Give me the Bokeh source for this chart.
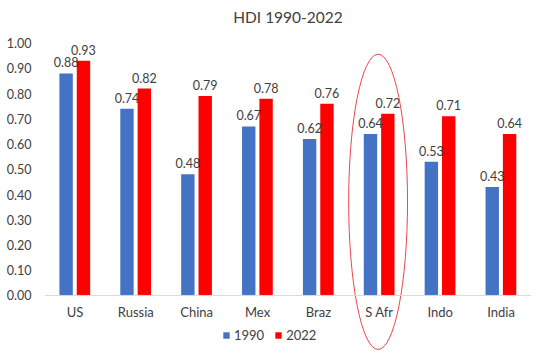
import numpy as np
from bokeh.plotting import figure
from bokeh.models import (ColumnDataSource, FactorRange, Range1d, FixedTicker,
                          NumeralTickFormatter, Legend, LegendItem, Span)
from bokeh.transform import dodge
from bokeh.core.properties import value
from bokeh.embed import file_html
from bokeh.resources import INLINE

countries = ["US", "Russia", "China", "Mex", "Braz", "S Afr", "Indo", "India"]
hdi_1990 = [0.88, 0.74, 0.48, 0.67, 0.62, 0.64, 0.53, 0.43]
hdi_2022 = [0.93, 0.82, 0.79, 0.78, 0.76, 0.72, 0.71, 0.64]
y_ticks = [0.0, 0.1, 0.2, 0.3, 0.4, 0.5, 0.6, 0.7, 0.8, 0.9, 1.0]
highlight = "S Afr"

FONT = "Lato"
TXT = "#404040"
BLUE = "#4472C4"
RED = "#FF0000"

src = ColumnDataSource(dict(
    c=countries, a=hdi_1990, b=hdi_2022, zero=[0.0] * len(countries),
    la=["%.2f" % v for v in hdi_1990], lb=["%.2f" % v for v in hdi_2022],
))

p = figure(frame_width=487, frame_height=325, x_range=FactorRange(*countries),
           y_range=Range1d(-0.238, 1.05), output_backend="svg",
           toolbar_location=None, x_axis_location=None,
           min_border_left=44, min_border_right=9, min_border_top=28,
           min_border_bottom=0)
p.title.text = "HDI 1990-2022"
p.title.align = "center"
p.title.text_font = FONT
p.title.text_font_size = "15.5px"
p.title.text_font_style = "normal"
p.title.text_color = TXT
p.outline_line_color = None
p.xgrid.visible = False
p.ygrid.visible = False

# category axis line at 0
p.add_layout(Span(location=0, dimension="width", line_color="#D9D9D9", line_width=1))

rb = p.vbar(x=dodge("c", -0.145, range=p.x_range), top="a", width=0.22,
            source=src, fill_color=BLUE, line_color=None)
rr = p.vbar(x=dodge("c", 0.14, range=p.x_range), top="b", width=0.22,
            source=src, fill_color=RED, line_color=None)

p.text(x=dodge("c", -0.145, range=p.x_range), y="a", text="la", source=src,
       text_align="center", text_baseline="middle", y_offset=-11,
       text_font=value(FONT), text_font_size="12.5px", text_color=TXT)
p.text(x=dodge("c", 0.14, range=p.x_range), y="b", text="lb", source=src,
       text_align="center", text_baseline="middle", y_offset=-11,
       text_font=value(FONT), text_font_size="12.5px", text_color=TXT)

# category labels
p.text(x="c", y="zero", text="c", source=src, text_align="center",
       text_baseline="middle", y_offset=17,
       text_font=value(FONT), text_font_size="13px", text_color=TXT)

# ellipse highlight
p.ellipse(x=dodge("x", -0.02, range=p.x_range), y="y", width="w", height="h",
          source=ColumnDataSource(dict(x=[highlight], y=[0.371], w=[0.967], h=[1.17])),
          fill_color=None, line_color="#E8474C", line_width=1)

p.yaxis.ticker = FixedTicker(ticks=y_ticks)
p.yaxis.formatter = NumeralTickFormatter(format="0.00")
p.yaxis.axis_line_color = None
p.yaxis.major_tick_line_color = None
p.yaxis.minor_tick_line_color = None
p.yaxis.major_label_standoff = 7
p.yaxis.major_label_text_font = FONT
p.yaxis.major_label_text_font_size = "12.5px"
p.yaxis.major_label_text_color = TXT

legend = Legend(items=[LegendItem(label="1990", renderers=[rb]),
                       LegendItem(label="2022", renderers=[rr])],
                orientation="horizontal", location=(178, 12),
                glyph_width=8, glyph_height=8, label_standoff=4, spacing=10,
                padding=0, margin=0, border_line_color=None,
                background_fill_alpha=0,
                label_text_font=FONT, label_text_font_size="13px",
                label_text_color=TXT)
p.add_layout(legend, "center")

open("out.html", "w").write(file_html(p, INLINE))
